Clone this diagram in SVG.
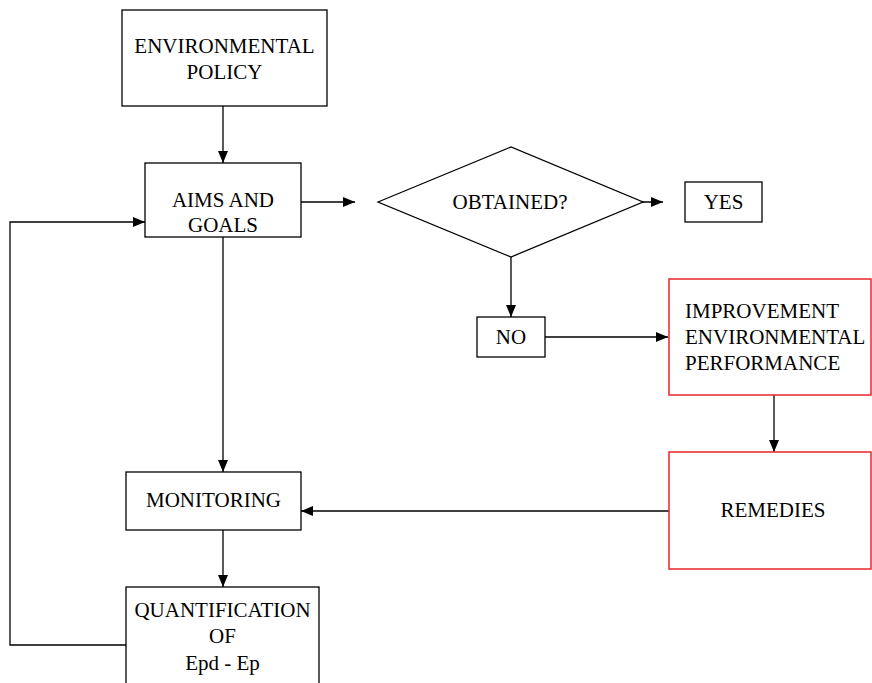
<svg xmlns="http://www.w3.org/2000/svg" width="872" height="683" viewBox="0 0 872 683">
<style>
.box{fill:#fff;stroke:#000;stroke-width:1.3}
.red{fill:#fff;stroke:#e8262b;stroke-width:1.5}
text{font-family:'Liberation Serif','DejaVu Serif',serif;font-size:21px;fill:#000}
.c{text-anchor:middle}
.ln{fill:none;stroke:#000;stroke-width:1.3}
</style>
<defs>
<marker id="ah" markerUnits="userSpaceOnUse" markerWidth="12" markerHeight="10" refX="12" refY="5" orient="auto">
<path d="M0,0 L12,5 L0,10 z" fill="#000"/>
</marker>
</defs>
<g id="connectors">
<path class="ln" d="M223,106 V163" marker-end="url(#ah)"/>
<path class="ln" d="M301,202 H355" marker-end="url(#ah)"/>
<path class="ln" d="M628,202 H663" marker-end="url(#ah)"/>
<path class="ln" d="M511,257 V317" marker-end="url(#ah)"/>
<path class="ln" d="M545,337 H668" marker-end="url(#ah)"/>
<path class="ln" d="M774,395 V452" marker-end="url(#ah)"/>
<path class="ln" d="M669,511 H301" marker-end="url(#ah)"/>
<path class="ln" d="M223,237 V472" marker-end="url(#ah)"/>
<path class="ln" d="M223,530 V587" marker-end="url(#ah)"/>
<path class="ln" d="M126,645 H10 V222 H145" marker-end="url(#ah)"/>
</g>
<g id="env-policy">
<rect class="box" x="122" y="10" width="205" height="96"/>
<text class="c" x="224.500" y="53" font-family="Liberation Serif, serif">ENVIRONMENTAL</text>
<text class="c" x="224.500" y="79" font-family="Liberation Serif, serif">POLICY</text>
</g>
<g id="aims-goals">
<rect class="box" x="145" y="163" width="156" height="74"/>
<text class="c" x="223" y="207">AIMS AND</text>
<text class="c" x="223" y="232">GOALS</text>
</g>
<g id="obtained">
<polygon class="box" points="378,202 511,147 643,202 511,257"/>
<text class="c" x="510" y="209">OBTAINED?</text>
</g>
<g id="yes">
<rect class="box" x="685" y="182" width="77" height="40"/>
<text class="c" x="723.500" y="209">YES</text>
</g>
<g id="no">
<rect class="box" x="477" y="317" width="68" height="40"/>
<text class="c" x="511" y="344">NO</text>
</g>
<g id="improvement">
<rect class="red" x="669" y="279" width="202" height="116"/>
<text x="685" y="318">IMPROVEMENT</text>
<text x="685" y="344">ENVIRONMENTAL</text>
<text x="685" y="370">PERFORMANCE</text>
</g>
<g id="remedies">
<rect class="red" x="669" y="452" width="202" height="117"/>
<text class="c" x="773" y="517">REMEDIES</text>
</g>
<g id="monitoring">
<rect class="box" x="126" y="472" width="175" height="58"/>
<text class="c" x="213.500" y="507">MONITORING</text>
</g>
<g id="quantification">
<rect class="box" x="126" y="587" width="193" height="110"/>
<text class="c" x="222.500" y="617">QUANTIFICATION</text>
<text class="c" x="222.500" y="643">OF</text>
<text class="c" x="222.500" y="670">Epd - Ep</text>
</g>
</svg>
